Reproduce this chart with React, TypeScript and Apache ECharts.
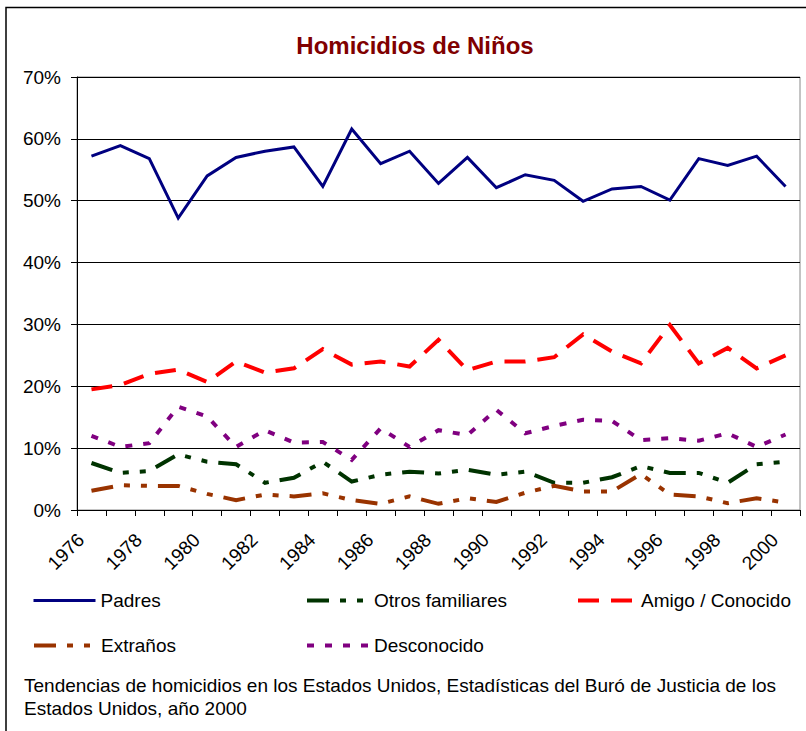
import React, { useEffect, useRef } from "react";
import * as echarts from "echarts";

const years = ["1976","1977","1978","1979","1980","1981","1982","1983","1984","1985","1986","1987","1988","1989","1990","1991","1992","1993","1994","1995","1996","1997","1998","1999","2000"];
const padres = [57.2, 58.9, 56.8, 47.2, 54.0, 57.0, 58.0, 58.7, 52.3, 61.6, 56.0, 58.0, 52.8, 57.0, 52.1, 54.2, 53.3, 49.9, 51.9, 52.3, 50.1, 56.8, 55.7, 57.2, 52.3];
const otrosFamiliares = [7.6, 6.0, 6.3, 9.0, 7.8, 7.4, 4.4, 5.2, 7.8, 4.6, 5.7, 6.2, 5.9, 6.5, 5.7, 6.2, 4.4, 4.4, 5.3, 7.1, 6.0, 6.0, 4.4, 7.4, 7.8];
const amigoConocido = [19.5, 20.2, 22.0, 22.7, 20.7, 24.0, 22.2, 22.9, 26.0, 23.5, 24.0, 23.2, 27.5, 22.6, 24.0, 24.0, 24.7, 28.4, 25.6, 23.7, 29.9, 23.7, 26.2, 22.9, 25.0];
const extranos = [3.1, 4.0, 3.9, 3.9, 2.6, 1.6, 2.5, 2.2, 2.7, 1.6, 1.0, 2.2, 1.0, 1.9, 1.3, 2.8, 3.9, 3.0, 3.0, 5.8, 2.5, 2.2, 1.1, 1.9, 1.2];
const desconocido = [12.0, 10.2, 10.8, 16.7, 15.1, 10.2, 12.9, 10.9, 11.0, 8.1, 13.2, 10.2, 12.9, 12.1, 16.2, 12.4, 13.6, 14.6, 14.4, 11.3, 11.6, 11.2, 12.4, 10.2, 12.2];

const FONT = "'Liberation Sans', Arial, sans-serif";

export default function App() {
  const ref = useRef<HTMLDivElement>(null);
  useEffect(() => {
    if (!ref.current) return;
    const chart = echarts.init(ref.current, undefined, { renderer: "svg" });
    const mk = (name: string, data: number[], color: string, width: number, type: any) => ({
      name,
      type: "line",
      data,
      symbol: "none",
      showSymbol: false,
      lineStyle: { color, width, type, cap: "butt", join: "miter" },
      itemStyle: { color },
    });
    const legendBase = {
      orient: "horizontal",
      padding: 0,
      itemWidth: 62,
      itemHeight: 14,
      itemStyle: { opacity: 0 },
      lineStyle: { width: "inherit" },
      textStyle: { fontSize: 19, fontFamily: FONT, color: "#000" },
    };
    chart.setOption({
      animation: false,
      backgroundColor: "#fff",
      textStyle: { fontFamily: FONT },
      title: {
        text: "Homicidios de Niños",
        left: 410,
        top: 28,
        textAlign: "center",
        textStyle: { fontSize: 24, fontWeight: "bold", color: "#800000", fontFamily: FONT },
      },
      grid: { left: 77, top: 77, right: 6, bottom: 221, show: true, borderColor: "#888", borderWidth: 1 },
      xAxis: {
        type: "category",
        data: years,
        boundaryGap: true,
        axisLine: { lineStyle: { color: "#000", width: 1 } },
        axisTick: { show: true, interval: 0, length: 6, lineStyle: { color: "#000" } },
        axisLabel: {
          interval: 1,
          rotate: 45,
          fontSize: 19,
          color: "#000",
          margin: 16,
          padding: [0, 15, 0, 0],
          fontFamily: FONT,
        },
        splitLine: { show: false },
      },
      yAxis: {
        type: "value",
        min: 0,
        max: 70,
        interval: 10,
        axisLine: { show: true, lineStyle: { color: "#000", width: 1 } },
        axisTick: { show: true, length: 6, lineStyle: { color: "#000" } },
        axisLabel: { formatter: "{value}%", fontSize: 19, color: "#000", margin: 16, fontFamily: FONT },
        splitLine: { show: true, lineStyle: { color: "#000", width: 1 } },
      },
      legend: [
        { ...legendBase, data: ["Padres"], left: 32, top: 591 },
        { ...legendBase, data: ["Otros familiares"], left: 305, top: 591 },
        { ...legendBase, data: ["Amigo / Conocido"], left: 576, top: 591, itemWidth: 58 },
        { ...legendBase, data: ["Extraños"], left: 32, top: 636 },
        { ...legendBase, data: ["Desconocido"], left: 305, top: 636 },
      ],
      graphic: [
        {
          type: "rect",
          shape: { x: 6, y: 7.5, width: 1000, height: 1000 },
          style: { fill: "none", stroke: "#000", lineWidth: 1.5 },
          silent: true,
          z: 100,
        },
        {
          type: "text",
          left: 24,
          top: 674,
          style: {
            text: "Tendencias de homicidios en los Estados Unidos, Estadísticas del Buró de Justicia de los\nEstados Unidos, año 2000",
            fontSize: 19,
            lineHeight: 23,
            fontFamily: FONT,
            fill: "#000",
          },
        },
      ],
      series: [
        mk("Padres", padres, "#000080", 3, "solid"),
        mk("Otros familiares", otrosFamiliares, "#003300", 4, [22, 11, 6, 11, 6, 11]),
        mk("Amigo / Conocido", amigoConocido, "#ff0000", 4, [21, 12]),
        mk("Extraños", extranos, "#993300", 4, [22, 11, 6, 11, 6, 11]),
        mk("Desconocido", desconocido, "#800080", 4, [7, 11]),
      ],
    });
    return () => chart.dispose();
  }, []);
  return (
    <div
      ref={ref}
      style={{ position: "fixed", left: 0, top: 0, width: 806, height: 731, background: "#fff" }}
    />
  );
}
